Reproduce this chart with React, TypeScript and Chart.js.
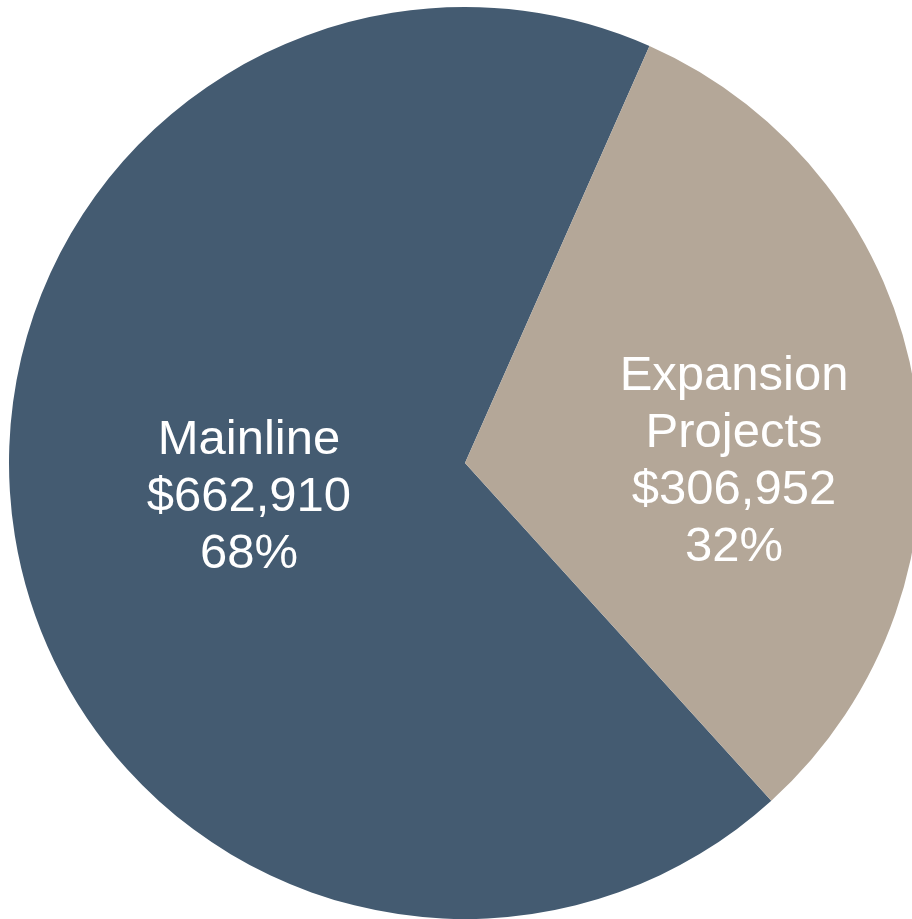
import React, { useEffect, useRef } from "react";
import { Chart, registerables } from "chart.js";

Chart.register(...registerables);

const categories = ["Mainline", "Expansion Projects"];
const labelLines = [["Mainline"], ["Expansion", "Projects"]];
const values = [662910, 306952];
const colors = ["#445B71", "#B4A798"];
const labelRadial = [0.48, 0.59];
const labelAngleShift = [0, 9];

const labelPlugin = {
  id: "sliceLabels",
  afterDatasetsDraw(chart: any) {
    const { ctx } = chart;
    const meta = chart.getDatasetMeta(0);
    const total = values.reduce((a, b) => a + b, 0);
    const fontSize = 49;
    const lh = 57;
    ctx.save();
    ctx.fillStyle = "#FFFFFF";
    ctx.font = `${fontSize}px "Liberation Sans", Arial, sans-serif`;
    ctx.textAlign = "center";
    ctx.textBaseline = "middle";
    meta.data.forEach((arc: any, i: number) => {
      const p = arc.getProps(["x", "y", "startAngle", "endAngle", "outerRadius"], true);
      const mid = (p.startAngle + p.endAngle) / 2 + (labelAngleShift[i] * Math.PI) / 180;
      const r = p.outerRadius * labelRadial[i];
      const cx = p.x + Math.cos(mid) * r;
      const cy = p.y + Math.sin(mid) * r;
      const lines = [
        ...labelLines[i],
        "$" + values[i].toLocaleString("en-US"),
        Math.round((values[i] / total) * 100) + "%",
      ];
      const startY = cy - ((lines.length - 1) * lh) / 2;
      lines.forEach((t, k) => ctx.fillText(t, cx, startY + k * lh));
    });
    ctx.restore();
  },
};

export default function App() {
  const ref = useRef<HTMLCanvasElement | null>(null);
  useEffect(() => {
    if (!ref.current) return;
    const chart = new Chart(ref.current, {
      type: "pie",
      data: {
        labels: categories,
        datasets: [
          {
            data: values,
            backgroundColor: colors,
            borderWidth: 0,
          },
        ],
      },
      options: {
        animation: false,
        responsive: false,
        maintainAspectRatio: false,
        rotation: 137.8,
        layout: { padding: 7 },
        plugins: {
          legend: { display: false },
          tooltip: { enabled: false },
        },
      },
      plugins: [labelPlugin],
    });
    return () => chart.destroy();
  }, []);
  return (
    <div
      style={{
        position: "fixed",
        left: 0,
        top: 0,
        width: 912,
        height: 919,
        overflow: "hidden",
        background: "#fff",
      }}
    >
      <canvas ref={ref} width={930} height={926} style={{ display: "block" }} />
    </div>
  );
}
